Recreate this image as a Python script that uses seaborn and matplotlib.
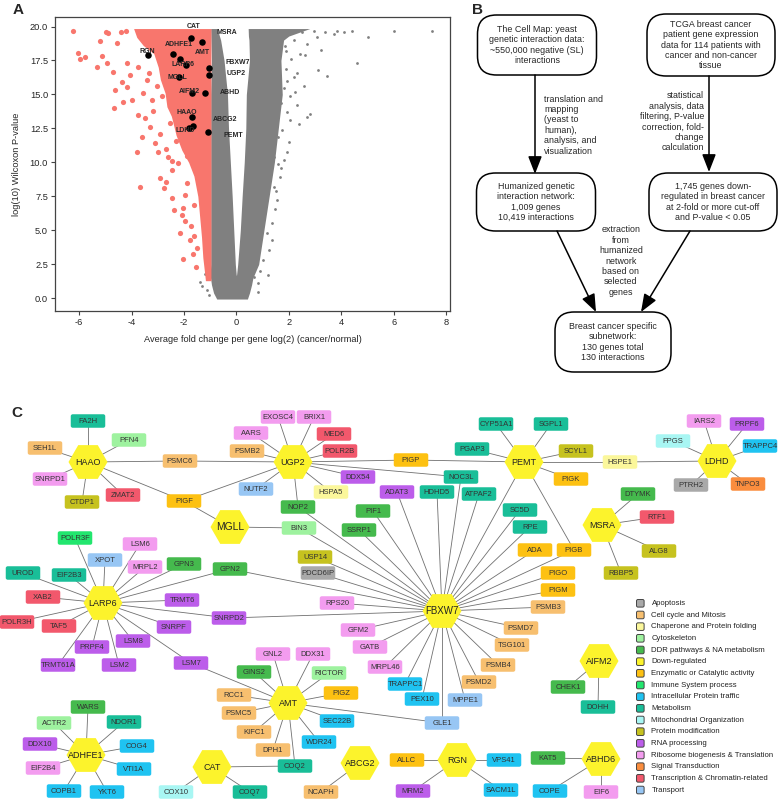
import numpy as np
import matplotlib
matplotlib.use('Agg')
import matplotlib.pyplot as plt
from matplotlib.patches import FancyBboxPatch, RegularPolygon
import seaborn as sns

sns.set_style("ticks")
plt.rcParams['font.family'] = ['Liberation Sans', 'DejaVu Sans']
plt.rcParams['axes.unicode_minus'] = False

# ---------------- Panel A data (volcano) ----------------
fc_ticks = [-6, -4, -2, 0, 2, 4, 6, 8]
p_ticks = [0.0, 2.5, 5.0, 7.5, 10.0, 12.5, 15.0, 17.5, 20.0]

# dense parts of the point clouds, outlines
down_core_y = [1.3, 2.0, 3.0, 4.5, 6.0, 7.5, 9.0, 10.0, 10.9, 12.0, 13.4, 14.1, 15.1, 16.1, 17.0, 18.0, 18.6, 19.2, 19.85]
down_core_left = [-1.18, -1.22, -1.28, -1.33, -1.4, -1.47, -1.62, -1.82, -2.08, -2.3, -2.48, -2.65, -2.72, -2.9, -2.98, -3.15, -3.55, -3.8, -3.92]
down_core_right = [-0.97] * 19

left_arm_y = [1.6, 2.5, 5.0, 7.5, 10.0, 12.5, 15.0, 17.5, 19.0, 19.85]
left_arm_left = [-1.0, -0.98, -0.98, -0.98, -0.98, -0.98, -0.98, -0.95, -0.97, -0.98]
left_arm_right = [0.0, -0.04, -0.1, -0.16, -0.23, -0.3, -0.34, -0.47, -0.6, -0.73]

right_arm_y = [1.6, 2.5, 5.0, 7.5, 10.0, 12.5, 15.0, 17.5, 19.0, 19.3, 19.85]
right_arm_left = [0.0, 0.05, 0.15, 0.22, 0.3, 0.36, 0.38, 0.5, 0.48, 0.46, 0.45]
right_arm_right = [0.65, 0.85, 1.05, 1.25, 1.45, 1.6, 1.75, 1.7, 1.8, 2.0, 2.8]

base_y = [-0.05, 0.4, 1.0, 1.7]
base_left = [-0.75, -0.87, -0.95, -1.0]
base_right = [0.42, 0.5, 0.58, 0.65]

# scattered individual genes outside the dense clouds
down_out_x = [-6.24, -6.03, -5.96, -5.77, -5.32, -5.22, -5.13, -4.97, -4.89, -4.94, -4.69, -4.63, -4.4, -4.54,
              -4.37, -4.18, -4.18, -4.66, -3.99, -4.31, -3.74, -3.55, -4.04, -3.74, -3.42, -3.23, -3.17, -3.04,
              -3.8, -3.0, -2.91, -2.69, -2.78, -2.46, -3.67, -2.46, -2.37, -2.04, -2.08, -1.95, -2.15, -1.76,
              -2.02, -1.67, -1.6, -1.89, -1.95, -2.21, -2.46, -1.89, -3.48, -3.3, -2.9, -3.1, -2.7, -3.6, -2.6,
              -4.2, -3.35, -2.85, -3.2, -1.55, -1.75, -1.5, -1.62, -2.3, -2.55]
down_out_y = [19.68, 18.04, 17.6, 17.75, 17.05, 18.9, 17.8, 19.6, 19.5, 17.3, 16.69, 15.34, 19.6, 18.78,
              15.95, 15.54, 17.3, 13.99, 14.6, 14.48, 13.5, 15.1, 16.4, 17.05, 16.07, 14.6, 13.8, 15.6,
              10.8, 10.8, 8.83, 8.59, 8.1, 9.45, 8.22, 7.36, 6.5, 6.63, 6.13, 5.7, 4.79, 4.29,
              2.87, 3.26, 4.6, 8.47, 7.6, 9.94, 10.1, 10.5, 13.25, 12.6, 12.1, 11.4, 11.0, 11.9, 10.4,
              19.7, 16.6, 14.9, 18.5, 2.3, 5.3, 3.7, 6.9, 11.6, 12.9]

up_out_x = [1.03, 1.42, 1.67, 1.42, 1.47, 1.35, 1.23, 1.03, 0.84, 1.16, 1.8, 1.94, 2.18, 2.44, 2.69, 3.08,
            3.72, 3.21, 2.18, 2.57, 2.06, 2.31, 2.82, 1.94, 3.85, 4.1, 3.4, 2.95, 2.5, 4.41, 5.04, 6.03, 7.46,
            4.6, 3.45, 3.1, 2.69, -1.38, -1.13, -1.05, 0.84, 0.69, 0.92, -1.2, -1.3, 1.9, 2.1, 1.8, 2.3,
            1.75, 2.0, 1.6, 1.7, 2.4, 1.85, 2.6, 1.55, 1.7, 1.6, 1.5, 1.35, 1.2, 2.05, 1.95, 2.25, 1.88]
up_out_y = [10.8, 10.43, 8.95, 8.2, 6.6, 5.52, 3.56, 2.85, 1.1, 4.8, 10.2, 10.8, 19.0, 18.0, 18.7, 19.2,
            19.47, 18.3, 16.3, 15.6, 14.9, 14.2, 13.6, 13.7, 19.7, 19.6, 19.6, 19.7, 19.6, 19.7, 19.22, 19.7,
            19.7, 17.35, 16.37, 16.8, 13.37, 1.22, 0.61, 0.25, 0.49, 1.6, 2.0, 1.8, 0.9, 16.9, 17.6, 15.5,
            16.6, 12.4, 11.5, 11.9, 9.6, 12.8, 18.6, 17.9, 7.2, 14.4, 9.9, 7.9, 4.3, 1.7, 13.1, 16.0, 15.2, 18.2]

# highlighted (hub) genes
hub_fc = [-1.74, -1.32, -2.40, -3.37, -2.15, -1.92, -1.03, -1.03, -2.18, -1.69, -1.20, -1.68, -1.64, -1.79, -1.07]
hub_p = [19.19, 18.87, 17.97, 17.92, 17.64, 17.20, 16.96, 16.44, 16.30, 15.10, 15.14, 13.33, 12.71, 12.52, 12.22]
hub_lab = ['CAT', 'MSRA', 'ADHFE1', 'RGN', 'AMT', 'LARP6', 'FBXW7', 'UGP2', 'MGLL', 'AIFM2', 'ABHD',
           'HAAO', 'ABCG2', 'LDHD', 'PEMT']
hub_lab_pos = [(-1.65, 19.98, 'center'), (-0.77, 19.54, 'left'), (-2.18, 18.65, 'center'),
               (-3.4, 18.14, 'center'), (-1.31, 18.06, 'center'), (-2.03, 17.24, 'center'),
               (-0.43, 17.35, 'left'), (-0.39, 16.57, 'left'), (-2.26, 16.24, 'center'),
               (-1.8, 15.21, 'center'), (-0.62, 15.14, 'left'), (-1.88, 13.65, 'center'),
               (-0.89, 13.13, 'left'), (-1.95, 12.34, 'center'), (-0.5, 11.95, 'left')]

# ---------------- Panel C data (network) ----------------
hubs = ['HAAO', 'UGP2', 'PEMT', 'LDHD', 'MGLL', 'MSRA', 'LARP6', 'FBXW7', 'AMT', 'AIFM2', 'ADHFE1',
        'CAT', 'ABCG2', 'RGN', 'ABHD6']
categories = ['Apoptosis', 'Cell cycle and Mitosis', 'Chaperone and Protein folding', 'Cytoskeleton',
              'DDR pathways & NA metabolism', 'Down-regulated', 'Enzymatic or Catalytic activity',
              'Immune System process', 'Intracellular Protein traffic', 'Metabolism',
              'Mitochondrial Organization', 'Protein modification', 'RNA processing',
              'Ribosome biogenesis & Translation', 'Signal Transduction',
              'Transcription & Chromatin-related', 'Transport']
cat_colors = ['#A9A9A9', '#F7BF6F', '#FBF79B', '#9EF29F', '#45BA4D', '#FCF32C', '#FDC112', '#22E66E',
              '#1FC3F1', '#19BE98', '#A8F6F3', '#C6C21F', '#BC5DEA', '#F39CEF', '#FA8D3E', '#F2586C',
              '#97C6F4']
gene_cat = {
    'FA2H': 'Metabolism', 'PFN4': 'Cytoskeleton', 'SEH1L': 'Cell cycle and Mitosis',
    'SNRPD1': 'Ribosome biogenesis & Translation', 'CTDP1': 'Protein modification',
    'ZMAT2': 'Transcription & Chromatin-related', 'PSMC6': 'Cell cycle and Mitosis',
    'PIGF': 'Enzymatic or Catalytic activity', 'BIN3': 'Cytoskeleton',
    'EXOSC4': 'Ribosome biogenesis & Translation', 'BRIX1': 'Ribosome biogenesis & Translation',
    'AARS': 'Ribosome biogenesis & Translation', 'MED6': 'Transcription & Chromatin-related',
    'PSMB2': 'Cell cycle and Mitosis', 'POLR2B': 'Transcription & Chromatin-related',
    'DDX54': 'RNA processing', 'NUTF2': 'Transport', 'HSPA5': 'Chaperone and Protein folding',
    'NOP2': 'DDR pathways & NA metabolism', 'PIF1': 'DDR pathways & NA metabolism',
    'SSRP1': 'DDR pathways & NA metabolism', 'USP14': 'Protein modification', 'PDCD6IP': 'Apoptosis',
    'POLR3F': 'Immune System process', 'LSM6': 'Ribosome biogenesis & Translation', 'XPOT': 'Transport',
    'MRPL2': 'Ribosome biogenesis & Translation', 'GPN3': 'DDR pathways & NA metabolism',
    'GPN2': 'DDR pathways & NA metabolism', 'UROD': 'Metabolism', 'EIF2B3': 'Metabolism',
    'CYP51A1': 'Metabolism', 'SGPL1': 'Metabolism', 'PGAP3': 'Metabolism', 'SCYL1': 'Protein modification',
    'PIGP': 'Enzymatic or Catalytic activity', 'NOC3L': 'Metabolism', 'PIGK': 'Enzymatic or Catalytic activity',
    'HSPE1': 'Chaperone and Protein folding', 'IARS2': 'Ribosome biogenesis & Translation',
    'PRPF6': 'RNA processing', 'FPGS': 'Mitochondrial Organization', 'TRAPPC4': 'Intracellular Protein traffic',
    'PTRH2': 'Apoptosis', 'TNPO3': 'Signal Transduction', 'ADAT3': 'RNA processing', 'HDHD5': 'Metabolism',
    'ATPAF2': 'Metabolism', 'SC5D': 'Metabolism', 'RPE': 'Metabolism', 'DTYMK': 'DDR pathways & NA metabolism',
    'RTF1': 'Transcription & Chromatin-related', 'ADA': 'Enzymatic or Catalytic activity',
    'PIGB': 'Enzymatic or Catalytic activity', 'ALG8': 'Protein modification', 'RBBP5': 'Protein modification',
    'PIGO': 'Enzymatic or Catalytic activity', 'PIGM': 'Enzymatic or Catalytic activity',
    'XAB2': 'Transcription & Chromatin-related', 'TRMT6': 'RNA processing',
    'POLR3H': 'Transcription & Chromatin-related', 'TAF5': 'Transcription & Chromatin-related',
    'SNRPD2': 'RNA processing', 'RPS20': 'Ribosome biogenesis & Translation', 'SNRPF': 'RNA processing',
    'GFM2': 'Ribosome biogenesis & Translation', 'PRPF4': 'RNA processing', 'LSM8': 'RNA processing',
    'GATB': 'Ribosome biogenesis & Translation', 'TRMT61A': 'RNA processing', 'LSM2': 'RNA processing',
    'LSM7': 'RNA processing', 'MRPL46': 'Ribosome biogenesis & Translation',
    'GNL2': 'Ribosome biogenesis & Translation', 'DDX31': 'Ribosome biogenesis & Translation',
    'GINS2': 'DDR pathways & NA metabolism', 'RICTOR': 'Cytoskeleton', 'RCC1': 'Cell cycle and Mitosis',
    'PIGZ': 'Enzymatic or Catalytic activity', 'PSMC5': 'Cell cycle and Mitosis',
    'SEC22B': 'Intracellular Protein traffic', 'KIFC1': 'Cell cycle and Mitosis',
    'WDR24': 'Intracellular Protein traffic', 'DPH1': 'Cell cycle and Mitosis', 'COQ2': 'Metabolism',
    'WARS': 'DDR pathways & NA metabolism', 'ACTR2': 'Cytoskeleton', 'NDOR1': 'Metabolism',
    'DDX10': 'RNA processing', 'COG4': 'Intracellular Protein traffic',
    'EIF2B4': 'Ribosome biogenesis & Translation', 'VTI1A': 'Intracellular Protein traffic',
    'COPB1': 'Intracellular Protein traffic', 'YKT6': 'Intracellular Protein traffic',
    'COX10': 'Mitochondrial Organization', 'COQ7': 'Metabolism', 'NCAPH': 'Cell cycle and Mitosis',
    'PSMB3': 'Cell cycle and Mitosis', 'PSMD7': 'Cell cycle and Mitosis', 'TSG101': 'Cell cycle and Mitosis',
    'PSMB4': 'Cell cycle and Mitosis', 'PSMD2': 'Cell cycle and Mitosis',
    'TRAPPC1': 'Intracellular Protein traffic', 'PEX10': 'Intracellular Protein traffic',
    'MPPE1': 'Transport', 'GLE1': 'Transport', 'CHEK1': 'DDR pathways & NA metabolism', 'DOHH': 'Metabolism',
    'ALLC': 'Enzymatic or Catalytic activity', 'VPS41': 'Intracellular Protein traffic',
    'KAT5': 'DDR pathways & NA metabolism', 'MRM2': 'RNA processing',
    'SACM1L': 'Intracellular Protein traffic', 'COPE': 'Intracellular Protein traffic',
    'EIF6': 'Ribosome biogenesis & Translation',
}
neighbours = {
    'HAAO': ['FA2H', 'PFN4', 'SEH1L', 'SNRPD1', 'CTDP1', 'ZMAT2', 'PSMC6', 'PIGF'],
    'UGP2': ['PSMC6', 'PIGF', 'EXOSC4', 'BRIX1', 'AARS', 'MED6', 'PSMB2', 'POLR2B', 'DDX54', 'NUTF2',
             'HSPA5', 'NOP2', 'PIGP', 'NOC3L'],
    'MGLL': ['PIGF', 'BIN3'],
    'PEMT': ['PIGP', 'CYP51A1', 'SGPL1', 'PGAP3', 'SCYL1', 'PIGK', 'HSPE1', 'PIGB', 'FBXW7'],
    'LDHD': ['HSPE1', 'IARS2', 'PRPF6', 'FPGS', 'TRAPPC4', 'PTRH2', 'TNPO3'],
    'MSRA': ['DTYMK', 'RTF1', 'ALG8', 'RBBP5'],
    'LARP6': ['POLR3F', 'LSM6', 'XPOT', 'MRPL2', 'GPN3', 'GPN2', 'UROD', 'EIF2B3', 'XAB2', 'TRMT6',
              'POLR3H', 'TAF5', 'SNRPD2', 'SNRPF', 'PRPF4', 'LSM8', 'TRMT61A', 'LSM2', 'LSM7'],
    'FBXW7': ['NOP2', 'BIN3', 'PIF1', 'SSRP1', 'USP14', 'PDCD6IP', 'ADAT3', 'HDHD5', 'NOC3L', 'ATPAF2',
              'SC5D', 'RPE', 'ADA', 'PIGB', 'PIGO', 'PIGM', 'PSMB3', 'PSMD7', 'TSG101', 'PSMB4', 'PSMD2',
              'MPPE1', 'GLE1', 'PEX10', 'TRAPPC1', 'MRPL46', 'GATB', 'GFM2', 'RPS20', 'SNRPD2', 'GPN2'],
    'AMT': ['LSM7', 'GNL2', 'DDX31', 'GINS2', 'RICTOR', 'RCC1', 'PIGZ', 'PSMC5', 'SEC22B', 'KIFC1',
            'WDR24', 'DPH1', 'COQ2', 'GLE1'],
    'CAT': ['COQ2', 'COX10', 'COQ7'],
    'ABCG2': ['NCAPH'],
    'ADHFE1': ['WARS', 'ACTR2', 'NDOR1', 'DDX10', 'COG4', 'EIF2B4', 'VTI1A', 'COPB1', 'YKT6'],
    'RGN': ['ALLC', 'VPS41', 'MRM2', 'SACM1L'],
    'ABHD6': ['KAT5', 'COPE', 'EIF6'],
    'AIFM2': ['CHEK1', 'DOHH'],
}

# layout of the network drawing (figure pixels)
layout = {
    'HAAO': (88, 462), 'UGP2': (293, 462), 'PEMT': (524, 462), 'LDHD': (717, 461), 'MGLL': (230, 527),
    'MSRA': (602, 525), 'LARP6': (103, 603), 'FBXW7': (442, 611), 'AMT': (288, 703), 'AIFM2': (599, 661),
    'ADHFE1': (86, 755), 'CAT': (212, 767), 'ABCG2': (360, 763), 'RGN': (457, 760), 'ABHD6': (601, 759),
    'FA2H': (88, 421), 'PFN4': (129, 440), 'SEH1L': (45, 448), 'SNRPD1': (50, 479), 'CTDP1': (82, 502),
    'ZMAT2': (123, 495), 'PSMC6': (180, 461), 'PIGF': (184, 501), 'BIN3': (299, 528), 'EXOSC4': (278, 417),
    'BRIX1': (314, 417), 'AARS': (251, 433), 'MED6': (334, 434), 'PSMB2': (247, 451), 'POLR2B': (340, 451),
    'DDX54': (358, 477), 'NUTF2': (256, 489), 'HSPA5': (331, 492), 'NOP2': (298, 507), 'PIF1': (373, 511),
    'SSRP1': (359, 530), 'USP14': (315, 557), 'PDCD6IP': (318, 573), 'POLR3F': (75, 538), 'LSM6': (140, 544),
    'XPOT': (105, 560), 'MRPL2': (145, 567), 'GPN3': (184, 564), 'GPN2': (230, 569), 'UROD': (23, 573),
    'EIF2B3': (69, 575), 'CYP51A1': (496, 424), 'SGPL1': (551, 424), 'PGAP3': (472, 449), 'SCYL1': (576, 451),
    'PIGP': (411, 460), 'NOC3L': (461, 477), 'PIGK': (571, 479), 'HSPE1': (620, 462), 'IARS2': (704, 421),
    'PRPF6': (747, 424), 'FPGS': (673, 441), 'TRAPPC4': (760, 446), 'PTRH2': (691, 485), 'TNPO3': (748, 484),
    'ADAT3': (397, 492), 'HDHD5': (437, 492), 'ATPAF2': (479, 494), 'SC5D': (520, 510), 'RPE': (530, 527),
    'DTYMK': (638, 494), 'RTF1': (657, 517), 'ADA': (535, 550), 'PIGB': (574, 550), 'ALG8': (659, 551),
    'RBBP5': (621, 573), 'PIGO': (558, 573), 'PIGM': (558, 590), 'XAB2': (43, 597), 'TRMT6': (182, 600),
    'POLR3H': (17, 622), 'TAF5': (59, 626), 'SNRPD2': (229, 618), 'RPS20': (337, 603), 'SNRPF': (174, 627),
    'GFM2': (358, 630), 'PRPF4': (92, 647), 'LSM8': (133, 641), 'GATB': (370, 647), 'TRMT61A': (58, 665),
    'LSM2': (119, 665), 'LSM7': (191, 663), 'MRPL46': (385, 667), 'GNL2': (273, 654), 'DDX31': (313, 654),
    'GINS2': (254, 672), 'RICTOR': (329, 673), 'RCC1': (234, 695), 'PIGZ': (341, 693), 'PSMC5': (239, 713),
    'SEC22B': (337, 721), 'KIFC1': (254, 732), 'WDR24': (319, 742), 'DPH1': (273, 750), 'COQ2': (295, 766),
    'WARS': (88, 707), 'ACTR2': (54, 723), 'NDOR1': (124, 722), 'DDX10': (40, 744), 'COG4': (137, 746),
    'EIF2B4': (43, 768), 'VTI1A': (134, 769), 'COPB1': (64, 791), 'YKT6': (107, 792), 'COX10': (176, 792),
    'COQ7': (250, 792), 'NCAPH': (321, 792), 'PSMB3': (548, 607), 'PSMD7': (521, 628), 'TSG101': (512, 645),
    'PSMB4': (498, 665), 'PSMD2': (479, 682), 'TRAPPC1': (405, 684), 'CHEK1': (568, 687), 'PEX10': (422, 699),
    'MPPE1': (465, 700), 'DOHH': (598, 707), 'GLE1': (442, 723), 'ALLC': (407, 760), 'VPS41': (504, 760),
    'KAT5': (548, 758), 'MRM2': (413, 791), 'SACM1L': (501, 790), 'COPE': (550, 791), 'EIF6': (601, 792),
}

# ---------------- Panel B text ----------------
flow_boxes = [
    (537, 45, 119, 60, "The Cell Map: yeast\ngenetic interaction data:\n~550,000 negative (SL)\ninteractions"),
    (711, 45, 128, 62, "TCGA breast cancer\npatient gene expression\ndata for 114 patients with\ncancer and non-cancer\ntissue"),
    (536, 202, 119, 58, "Humanized genetic\ninteraction network:\n1,009 genes\n10,419 interactions"),
    (713, 202, 128, 58, "1,745 genes down-\nregulated in breast cancer\nat 2-fold or more cut-off\nand P-value < 0.05"),
    (613, 342, 116, 60, "Breast cancer specific\nsubnetwork:\n130 genes total\n130 interactions"),
]
flow_arrows = [((535, 75), (535, 174)), ((709, 76), (709, 172)), ((557, 231), (596, 312)),
               ((690, 231), (641, 312))]
flow_notes = [
    (544, 125, 'left', "translation and\nmapping\n(yeast to\nhuman),\nanalysis, and\nvisualization"),
    (704, 122, 'right', "statistical\nanalysis, data\nfiltering, P-value\ncorrection, fold-\nchange\ncalculation"),
    (621, 261, 'center', "extraction\nfrom\nhumanized\nnetwork\nbased on\nselected\ngenes"),
]

# ======================= drawing =======================
W, H = 778, 800
fig = plt.figure(figsize=(W / 100, H / 100), dpi=100)

ov = fig.add_axes([0, 0, 1, 1])
ov.set_xlim(0, W)
ov.set_ylim(H, 0)
ov.axis('off')
ov.patch.set_visible(False)

# ---- Panel A ----
ax = fig.add_axes([55 / W, 1 - 311 / H, 395 / W, 294 / H])
salmon = '#F8766D'
grey = '#808080'
ax.fill_betweenx(base_y, base_left, base_right, color=grey, lw=0, zorder=1)
ax.fill_betweenx(left_arm_y, left_arm_left, left_arm_right, color=grey, lw=0, zorder=1)
ax.fill_betweenx(right_arm_y, right_arm_left, right_arm_right, color=grey, lw=0, zorder=1)
sns.scatterplot(x=up_out_x, y=up_out_y, color=grey, s=4, linewidth=0, ax=ax, zorder=2)
ax.fill_betweenx(down_core_y, down_core_left, down_core_right, color=salmon, lw=0, zorder=3)
sns.scatterplot(x=down_out_x, y=down_out_y, color=salmon, s=14, linewidth=0, ax=ax, zorder=3)
sns.scatterplot(x=hub_fc, y=hub_p, color='black', s=22, linewidth=0, ax=ax, zorder=4)
for lab, (lx, ly, ha) in zip(hub_lab, hub_lab_pos):
    ax.text(lx, ly, lab, fontsize=5, fontweight='bold', ha=ha, va='center', zorder=5)
ax.set_xlim(-6.92, 8.15)
ax.set_ylim(-0.93, 20.7)
ax.set_xticks(fc_ticks)
ax.set_yticks(p_ticks)
ax.set_yticklabels([f"{v:.1f}" for v in p_ticks])
ax.tick_params(labelsize=6.7, length=3, width=0.8, color='#444444', pad=2)
for sp in ax.spines.values():
    sp.set_visible(True)
    sp.set_color('#444444')
    sp.set_linewidth(0.9)
ax.set_xlabel("Average fold change per gene log(2) (cancer/normal)", fontsize=6.7, labelpad=6)
ax.set_ylabel("log(10) Wilcoxon P-value", fontsize=6.7, labelpad=6)

# ---- panel letters ----
for letter, (px, py) in zip("ABC", [(18, 10), (478, 10), (17, 413)]):
    ov.text(px, py, letter, fontsize=11, fontweight='bold', ha='center', va='center')

# ---- Panel B ----
for cx, cy, bw, bh, txt in flow_boxes:
    ov.add_patch(FancyBboxPatch((cx - bw / 2, cy - bh / 2), bw, bh,
                                boxstyle="round,pad=0,rounding_size=19",
                                fc='white', ec='black', lw=1.1, zorder=2))
    ov.text(cx, cy, txt, fontsize=6.4, ha='center', va='center', linespacing=1.2, zorder=3)
for (x0, y0), (x1, y1) in flow_arrows:
    ov.annotate('', xy=(x1, y1), xytext=(x0, y0),
                arrowprops=dict(arrowstyle='-|>,head_length=0.9,head_width=0.35', color='black',
                                lw=1.1, shrinkA=0, shrinkB=0, mutation_scale=12))
for nx, ny, ha, txt in flow_notes:
    ov.text(nx, ny, txt, fontsize=6.4, ha=ha, va='center', linespacing=1.2, multialignment=ha)

# ---- Panel C ----
for hub, nbrs in neighbours.items():
    hx, hy = layout[hub]
    for n in nbrs:
        gx, gy = layout[n]
        ov.plot([hx, gx], [hy, gy], color='#707070', lw=0.6, zorder=1)

col_of = dict(zip(categories, cat_colors))
rw, rh = 34.5, 13.5
for g, cat in gene_cat.items():
    gx, gy = layout[g]
    ov.add_patch(FancyBboxPatch((gx - rw / 2, gy - rh / 2), rw, rh,
                                boxstyle="round,pad=0,rounding_size=2",
                                fc=col_of[cat], ec='none', zorder=2))
    ov.text(gx, gy + 0.3, g, fontsize=5.5, ha='center', va='center', color='#333333', zorder=3)

hub_fs = {'MGLL': 7.4, 'FBXW7': 7.0}
for h in hubs:
    hx, hy = layout[h]
    ov.add_patch(RegularPolygon((hx, hy), 6, radius=19.5, orientation=np.pi / 6,
                                fc=col_of['Down-regulated'], ec='none', zorder=2))
    ov.text(hx, hy + 0.3, h, fontsize=hub_fs.get(h, 6.5), ha='center', va='center',
            color='#222222', zorder=3)

# legend
for i, (cat, c) in enumerate(zip(categories, cat_colors)):
    ly = 603.3 + i * 11.67
    ov.add_patch(FancyBboxPatch((636.5, ly - 3.8), 7.6, 7.6, boxstyle="round,pad=0,rounding_size=1.5",
                                fc=c, ec='#444444', lw=0.7, zorder=2))
    ov.text(651.5, ly + 0.3, cat, fontsize=5.6, ha='left', va='center', color='#222222')

fig.savefig('out.png', dpi=100)
